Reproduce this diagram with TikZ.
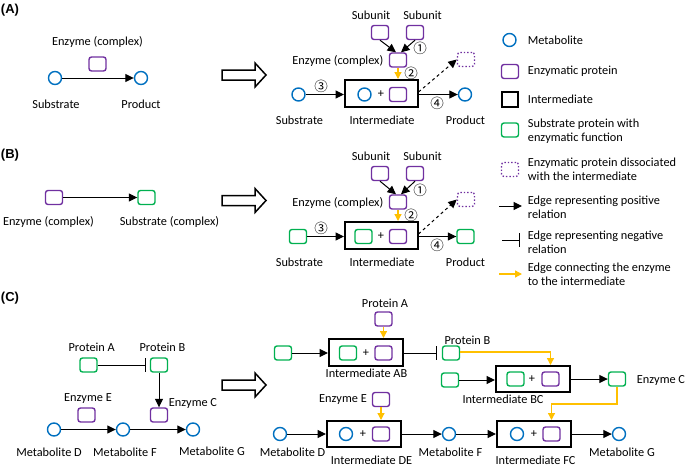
\documentclass[tikz,border=0pt]{standalone}
\usepackage{fontspec}
\setmainfont{Carlito}
\newfontfamily\headfont{Liberation Sans}
\newfontfamily\cnumfont{Noto Sans CJK SC}
\usetikzlibrary{arrows.meta}
\definecolor{mblue}{HTML}{0070C0}
\definecolor{mpurple}{HTML}{7030A0}
\definecolor{mgreen}{HTML}{00B050}
\definecolor{myellow}{HTML}{FFC000}
\tikzset{
 met/.style={circle, draw=mblue, line width=1.4pt, minimum size=13pt, inner sep=0pt},
 enz/.style={rectangle, rounded corners=2.5pt, draw=mpurple, line width=1.4pt, minimum width=17pt, minimum height=14pt, inner sep=0pt},
 sprot/.style={enz, draw=mgreen},
 diss/.style={enz, dotted},
 inter/.style={rectangle, draw=black, line width=2pt, minimum width=73pt, minimum height=27pt, inner sep=0pt},
 lbl/.style={inner sep=0pt, font=\fontsize{12.3}{14}\selectfont},
 head/.style={inner sep=0pt, font=\headfont\bfseries\fontsize{13}{15}\selectfont},
 cnum/.style={inner sep=0pt, font=\cnumfont\fontsize{13.5}{14}\selectfont},
 posedge/.style={-{Triangle[length=8.5pt,width=8pt]}, line width=1pt},
 negedge/.style={-{Bar[width=14pt,line width=1pt]}, line width=1pt},
 yel/.style={-{Triangle[length=7pt,width=7pt]}, draw=myellow, line width=1.3pt},
 bigarrow/.style={draw=black, line width=1.5pt, fill=white},
}
\begin{document}
\begin{tikzpicture}[x=1pt,y=-1pt]
\useasboundingbox (0,0) rectangle (685,466);

% ---------------- Panel A ----------------
\node[head] (hA) at (10,10) {(A)};
\node[lbl] (aEl) at (97.5,42) {Enzyme (complex)};
\node[enz] (aE) at (97.5,64) {};
\node[met] (aS) at (55,78) {};
\node[met] (aP) at (141,78) {};
\draw[posedge] (aS) -- (aP);
\node[lbl] (aSl) at (56,104) {Substrate};
\node[lbl] (aPl) at (141,104) {Product};

\draw[bigarrow] (222,70) -- (255,70) -- (255,63) -- (266,75) -- (255,87) -- (255,80) -- (222,80) -- cycle;

\node[lbl] (Asl) at (371,15) {Subunit};
\node[lbl] (Asr) at (422.5,15) {Subunit};
\node[enz] (Asub1) at (380,32.5) {};
\node[enz] (Asub2) at (415,32.5) {};
\node[enz] (Aenz) at (398,60) {};
\node[lbl,anchor=east] (Aenzl) at (383.5,60.7) {Enzyme (complex)};
\draw[posedge] (Asub1.south) -- ([xshift=-2pt]Aenz.north);
\draw[posedge] (Asub2.south) -- ([xshift=3pt]Aenz.north);
\node[cnum] (An1) at (420,48) {①};
\node[inter] (Aint) at (381.5,93.5) {};
\node[met] (Aic) at (364.5,94.5) {};
\node[lbl] (Aplus) at (381,94.5) {+};
\node[enz] (Aie) at (398,94.5) {};
\draw[yel] (Aenz.south) -- (Aenz.south |- Aint.north);
\node[cnum] (An2) at (411,73) {②};
\node[met] (As) at (298.5,94.5) {};
\draw[posedge] (As) -- (As -| Aint.west);
\node[cnum] (An3) at (321,86) {③};
\node[met] (Ap) at (465,94.5) {};
\draw[posedge] (Ap -| Aint.east) -- (Ap);
\node[cnum] (An4) at (437,103) {④};
\node[diss] (Ad) at (466,59.5) {};
\coordinate (Adst) at (418.5,92);
\draw[posedge,dashed] (Adst) -- (Ad.west);
\node[lbl] (Asubl) at (299.5,120) {Substrate};
\node[lbl] (Aintl) at (382,120) {Intermediate};
\node[lbl] (Aprol) at (465.5,120) {Product};

% ---------------- Panel B ----------------
\node[head] (hB) at (10,155) {(B)};
\node[enz] (bE) at (54,197.5) {};
\node[sprot] (bS) at (146.5,197.5) {};
\draw[posedge] (bE) -- (bS);
\node[lbl] (bEl) at (48.5,222) {Enzyme (complex)};
\node[lbl] (bSl) at (169.5,222) {Substrate (complex)};

\draw[bigarrow] (222,195.5) -- (255,195.5) -- (255,188.5) -- (266,200.5) -- (255,212.5) -- (255,205.5) -- (222,205.5) -- cycle;

\node[lbl] (Bsl) at (371,156.5) {Subunit};
\node[lbl] (Bsr) at (422.5,156.5) {Subunit};
\node[enz] (Bsub1) at (380,173.5) {};
\node[enz] (Bsub2) at (415,173.5) {};
\node[enz] (Benz) at (398,202) {};
\node[lbl,anchor=east] (Benzl) at (383.5,202.5) {Enzyme (complex)};
\draw[posedge] (Bsub1.south) -- ([xshift=-2pt]Benz.north);
\draw[posedge] (Bsub2.south) -- ([xshift=3pt]Benz.north);
\node[cnum] (Bn1) at (420,190) {①};
\node[inter] (Bint) at (381.5,235.5) {};
\node[sprot] (Bic) at (363.5,236.5) {};
\node[lbl] (Bplus) at (381,236.5) {+};
\node[enz] (Bie) at (398,236.5) {};
\draw[yel] (Benz.south) -- (Benz.south |- Bint.north);
\node[cnum] (Bn2) at (411,215) {②};
\node[sprot] (Bs) at (298,236.5) {};
\draw[posedge] (Bs) -- (Bs -| Bint.west);
\node[cnum] (Bn3) at (321,228) {③};
\node[sprot] (Bp) at (465.5,236.5) {};
\draw[posedge] (Bp -| Bint.east) -- (Bp);
\node[cnum] (Bn4) at (437,245) {④};
\node[diss] (Bd) at (466,199.5) {};
\coordinate (Bdst) at (418.5,234);
\draw[posedge,dashed] (Bdst) -- (Bd.west);
\node[lbl] (Bsubl) at (299.5,262) {Substrate};
\node[lbl] (Bintl) at (382,262) {Intermediate};
\node[lbl] (Bprol) at (465.5,262) {Product};

% ---------------- Legend ----------------
\node[met] (L1) at (509.5,40) {};
\node[lbl,anchor=west] (L1t) at (527.7,40) {Metabolite};
\node[enz] (L2) at (510,71.5) {};
\node[lbl,anchor=west] (L2t) at (527.7,71) {Enzymatic protein};
\node[rectangle, draw=black, line width=2pt, minimum width=16pt, minimum height=15pt, inner sep=0pt] (L3) at (510,99.5) {};
\node[lbl,anchor=west] (L3t) at (527.7,99) {Intermediate};
\node[sprot] (L4) at (510,130) {};
\node[lbl,anchor=west,align=left] (L4t) at (527.7,131) {Substrate protein with\\enzymatic function};
\node[diss] (L5) at (510,169.5) {};
\node[lbl,anchor=west,align=left] (L5t) at (527.7,169.4) {Enzymatic protein dissociated\\with the intermediate};
\coordinate (L6a) at (499,206);
\coordinate (L6b) at (522,206);
\draw[posedge] (L6a) -- (L6b);
\node[lbl,anchor=west,align=left] (L6t) at (527.7,207) {Edge representing positive\\relation};
\coordinate (L7a) at (502,240);
\coordinate (L7b) at (520,240);
\draw[negedge] (L7a) -- (L7b);
\node[lbl,anchor=west,align=left] (L7t) at (527.7,242) {Edge representing negative\\relation};
\coordinate (L8a) at (499,274);
\coordinate (L8b) at (522,274);
\draw[yel] (L8a) -- (L8b);
\node[lbl,anchor=west,align=left] (L8t) at (527.7,274.5) {Edge connecting the enzyme\\to the intermediate};

% ---------------- Panel C left ----------------
\node[head] (hC) at (10,298) {(C)};
\node[lbl] (cPAl) at (91.7,347) {Protein A};
\node[sprot] (cPA) at (88.5,365) {};
\node[lbl] (cPBl) at (162.5,347) {Protein B};
\node[sprot] (cPB) at (159,365) {};
\draw[negedge, shorten >=3.5pt] (cPA) -- (cPB);
\node[enz] (cEC) at (159,415) {};
\draw[posedge] (cPB) -- (cEC);
\node[lbl] (cECl) at (193,403) {Enzyme C};
\node[lbl] (cEEl) at (88,399) {Enzyme E};
\node[enz] (cEE) at (86.5,415) {};
\node[met] (cD) at (54,429.5) {};
\node[met] (cF) at (123,429.5) {};
\node[met] (cG) at (193,429.5) {};
\draw[posedge] (cD) -- (cF);
\draw[posedge] (cF) -- (cG);
\node[lbl] (cDl) at (49,452) {Metabolite D};
\node[lbl] (cFl) at (125,452) {Metabolite F};
\node[lbl] (cGl) at (212,451) {Metabolite G};

\draw[bigarrow] (222,380) -- (255,380) -- (255,373) -- (266,385) -- (255,397) -- (255,390) -- (222,390) -- cycle;

% ---------------- Panel C right ----------------
\node[lbl] (CPAl) at (385,303) {Protein A};
\node[enz] (CPA) at (383.5,319) {};
\node[inter, minimum width=74pt] (CAB) at (366,352.5) {};
\node[sprot] (CABg) at (348,353) {};
\node[lbl] (CABp) at (366,353) {+};
\node[enz] (CABe) at (383.5,353) {};
\draw[yel] (CPA.south) -- (CPA.south |- CAB.north);
\node[sprot] (CPAo) at (283,353) {};
\draw[posedge] (CPAo) -- (CPAo -| CAB.west);
\node[lbl] (CABl) at (366.5,373) {Intermediate AB};
\node[sprot] (CPB) at (451,353) {};
\node[lbl] (CPBl) at (467.5,340) {Protein B};
\draw[negedge, shorten >=5pt] (CPB -| CAB.east) -- (CPB);

\node[inter, minimum width=74pt, minimum height=26pt] (CBC) at (533,379) {};
\node[sprot] (CBCg) at (515.5,379) {};
\node[lbl] (CBCp) at (532,379) {+};
\node[enz] (CBCe) at (550.5,379) {};
\coordinate (CPBk) at (550.5,352);
\draw[yel] (CPB.east |- CPBk) -- (CPBk) -- (CPBk |- CBC.north);
\node[sprot] (CBo) at (450,380) {};
\draw[posedge] (CBo) -- (CBo -| CBC.west);
\node[lbl] (CBCl) at (503,399) {Intermediate BC};
\node[sprot] (CECg) at (617,379) {};
\draw[posedge] (CBC.east) -- (CECg);
\node[lbl] (CECl) at (661,380) {Enzyme C};

\node[inter, minimum width=74pt, minimum height=26pt] (CFC) at (534,434) {};
\node[met] (CFCc) at (517,434) {};
\node[lbl] (CFCp) at (534,434) {+};
\node[enz] (CFCe) at (551.5,434) {};
\coordinate (CECk1) at (617,404);
\coordinate (CECk2) at (551.5,404);
\draw[yel] (CECg.south) -- (CECk1) -- (CECk2) -- (CECk2 |- CFC.north);
\node[lbl] (CFCl) at (535.5,460) {Intermediate FC};
\node[met] (CG) at (619,434) {};
\draw[posedge] (CFC.east) -- (CG);
\node[lbl] (CGl) at (622,452.7) {Metabolite G};

\node[inter, minimum width=74pt, minimum height=26pt] (CDE) at (364,434) {};
\node[met] (CDEc) at (346,434) {};
\node[lbl] (CDEp) at (363,434) {+};
\node[enz] (CDEe) at (381,434) {};
\node[enz] (CEE) at (381,399.5) {};
\node[lbl] (CEEl) at (343,400) {Enzyme E};
\draw[yel] (CEE.south) -- (CEE.south |- CDE.north);
\node[met] (CD) at (280,434) {};
\draw[posedge] (CD) -- (CDE.west);
\node[lbl] (CDl) at (292.5,452) {Metabolite D};
\node[lbl] (CDEl) at (371.5,460) {Intermediate DE};
\node[met] (CF) at (449,434) {};
\draw[posedge] (CDE.east) -- (CF);
\draw[posedge] (CF) -- (CFC.west);
\node[lbl] (CFl) at (450.5,452) {Metabolite F};
\end{tikzpicture}
\end{document}
